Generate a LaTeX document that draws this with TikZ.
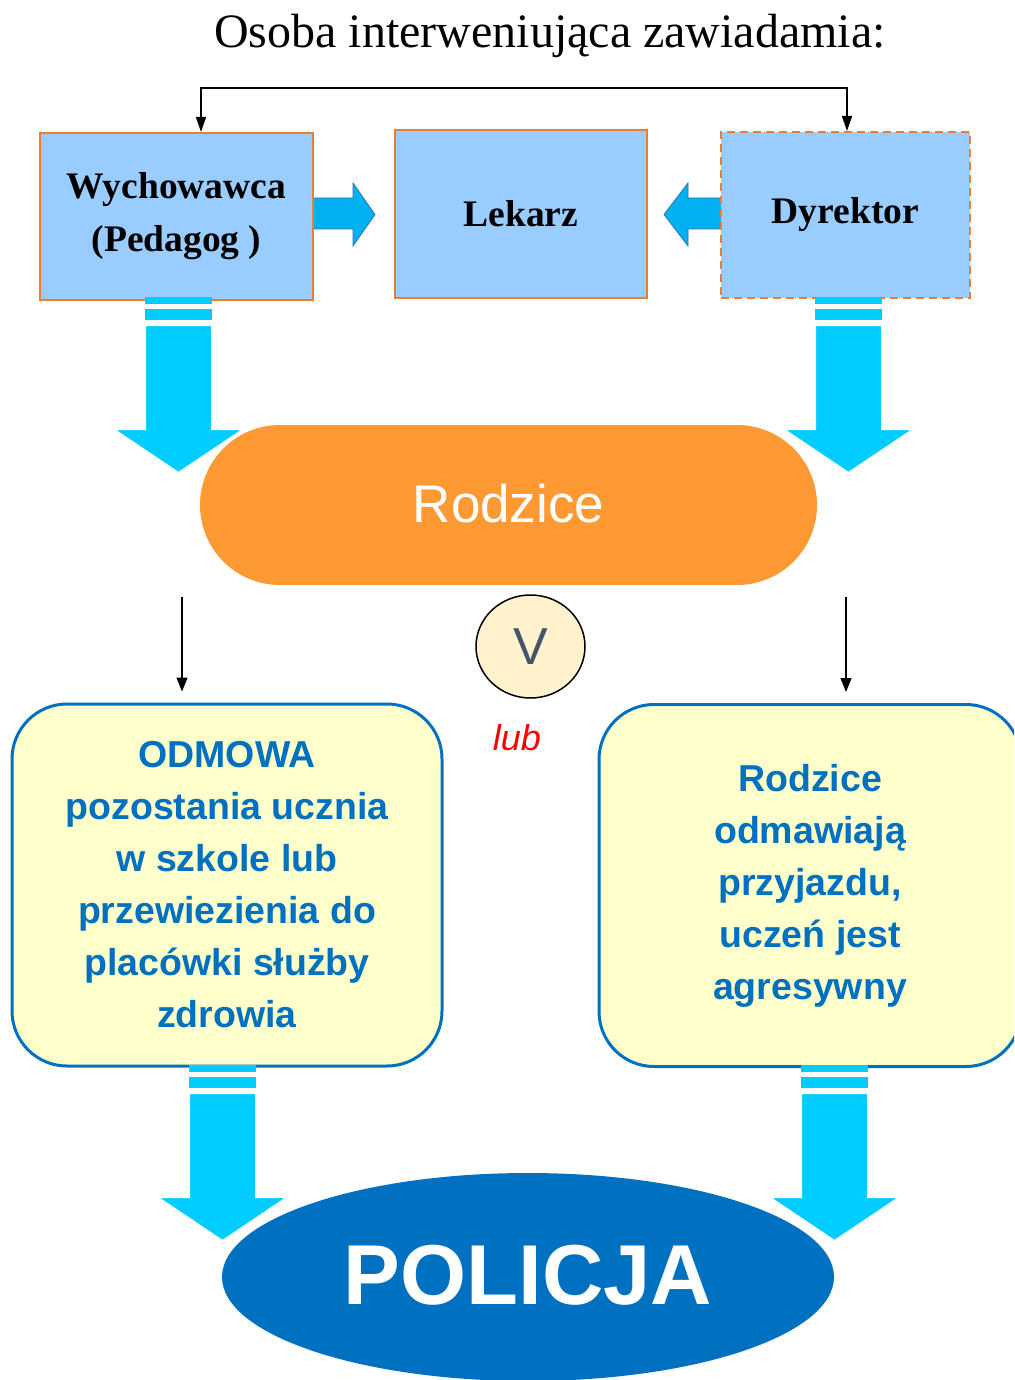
\documentclass[tikz,border=0pt]{standalone}
\usepackage{fontspec}
\setmainfont{Liberation Serif}
\setsansfont{Liberation Sans}
\usetikzlibrary{shapes.geometric,arrows.meta,calc}
\definecolor{boxblue}{HTML}{99CCFF}
\definecolor{boxorange}{HTML}{ED7D31}
\definecolor{arrowblue}{HTML}{00B0F0}
\definecolor{arrowedge}{HTML}{2E75B6}
\definecolor{arrowcyan}{HTML}{00CCFF}
\definecolor{parentorange}{HTML}{FF9933}
\definecolor{textblue}{HTML}{0070C0}
\definecolor{paleyellow}{HTML}{FFFFCC}
\definecolor{circyellow}{HTML}{FFF2CC}
\definecolor{slate}{HTML}{44546A}
\begin{document}
\begin{tikzpicture}[x=1pt,y=-1pt,
  topbox/.style={draw=boxorange, line width=2pt, fill=boxblue, align=center,
    font=\fontsize{37.5}{53}\selectfont\bfseries, inner sep=0pt},
  yellowbox/.style={draw=textblue, line width=3pt, fill=paleyellow, rounded corners=55pt,
    align=center, text=textblue, font=\sffamily\bfseries\fontsize{37.5}{52}\selectfont,
    minimum height=362pt, inner sep=0pt},
  thinarrow/.style={draw=black, line width=1.3pt, -{Triangle[length=14pt,width=11pt]}},
  fatarrow/.style={fill=arrowblue, draw=arrowedge, line width=0.8pt},
  stripearrow/.pic={
    \fill[arrowcyan] (-33.5,0) rectangle (33.5,7);
    \fill[arrowcyan] (-33.5,12) rectangle (33.5,23);
    \filldraw[fill=arrowcyan, draw=white, line width=2pt] (-33.5,28) -- (33.5,28) -- (33.5,132) -- (65.5,132) -- (0,176) -- (-65.5,132) -- (-33.5,132) -- cycle;
  }
]
\useasboundingbox (0,0) rectangle (1014,1380);
\clip (0,0) rectangle (1014,1380);

% title
\node[font=\fontsize{48}{50}\selectfont, inner sep=0pt] (title) at (550,36) {Osoba interweniująca zawiadamia:};

% horizontal fat arrows (under boxes)
\path[fatarrow] (300,198) -- (353,198) -- (353,183) -- (375,214.5) -- (353,246) -- (353,229) -- (300,229) -- cycle;
\path[fatarrow] (740,198) -- (688,198) -- (688,183) -- (664,214.5) -- (688,246) -- (688,229) -- (740,229) -- cycle;

% top boxes
\node[topbox, minimum width=273pt, minimum height=167pt] (wych) at (176.5,216.5) {Wychowawca\\(Pedagog )};
\node[topbox, minimum width=252pt, minimum height=168pt] (lek) at (521,214) {\raisebox{2pt}{Lekarz}};
\node[topbox, dash pattern=on 8pt off 5pt, minimum width=249pt, minimum height=166pt] (dyr) at (845.5,215) {Dyrektor};

% top connector
\coordinate (ctop) at (524,88);
\draw[line width=1.5pt, {Triangle[length=15pt,width=10pt]}-{Triangle[length=15pt,width=10pt]}]
  ([xshift=24.5pt]wych.north) |- (ctop) -| ([xshift=1.5pt]dyr.north);

% Rodzice
\node[fill=parentorange, rounded corners=80pt, minimum width=617pt, minimum height=160pt,
  text=white, font=\sffamily\fontsize{53}{55}\selectfont, inner sep=0pt] (rodz) at (508.5,505) {\raisebox{4pt}{Rodzice}};

% V circle and lub
\node[ellipse, draw=black, line width=1.5pt, fill=circyellow, minimum width=109pt, minimum height=103pt,
  inner sep=0pt, text=slate, font=\sffamily\fontsize{52}{55}\selectfont] (vcirc) at (530.5,646.5) {V};
\node[text=red, font=\sffamily\itshape\fontsize{36}{40}\selectfont, inner sep=0pt] (lub) at (517,738) {lub};

% yellow boxes
\node[yellowbox, minimum width=430pt] (odm) at (227,885) {\raisebox{1pt}{\parbox{400pt}{\centering ODMOWA\\pozostania ucznia\\w szkole lub\\przewiezienia do\\placówki służby\\zdrowia}}};
\node[yellowbox, minimum width=422pt] (agr) at (810,885.5) {Rodzice\\odmawiają\\przyjazdu,\\uczeń jest\\agresywny};

% thin arrows
\coordinate (l1) at (182,597);
\coordinate (r1) at (846,597);
\draw[thinarrow, shorten >=11pt] (l1) -- (l1 |- odm.north);
\draw[thinarrow, shorten >=11pt] (r1) -- (r1 |- agr.north);

% POLICJA
\node[ellipse, fill=textblue, minimum width=612pt, minimum height=208pt, inner sep=0pt,
  text=white, font=\sffamily\bfseries\fontsize{85}{88}\selectfont] (pol) at (528,1277) {\raisebox{5pt}{POLICJA}};

% striped arrows
\pic at (178.5,297) {stripearrow};
\pic at (848.5,297) {stripearrow};
\pic at (222.5,1065) {stripearrow};
\pic at (834.5,1065) {stripearrow};
\end{tikzpicture}
\end{document}
